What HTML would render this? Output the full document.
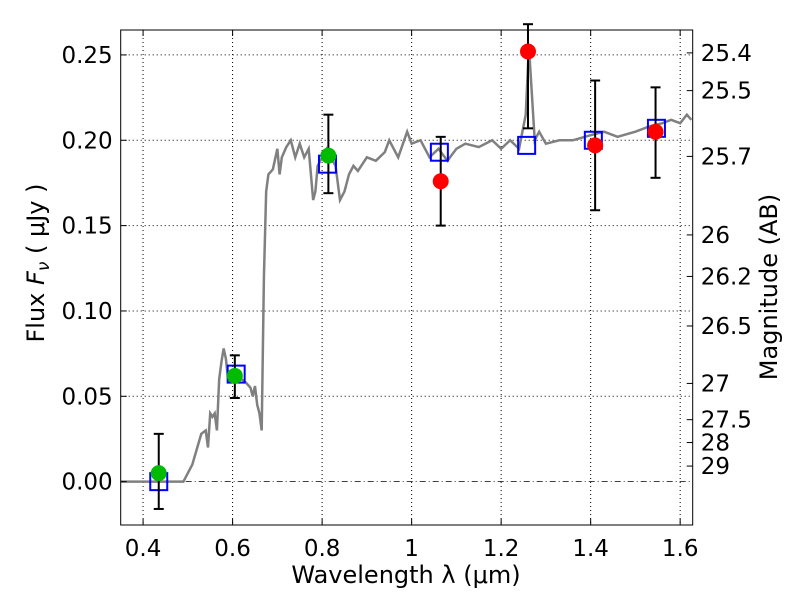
<!DOCTYPE html>
<html><head><meta charset="utf-8"><style>
body{margin:0;background:#fff;}
svg text{font-family:"DejaVu Sans","Liberation Sans",sans-serif;}
</style></head><body>
<svg id="chart" width="800" height="600" viewBox="0 0 800 600" xmlns="http://www.w3.org/2000/svg">
<rect width="800" height="600" fill="#fff"/>
<g id="grid"></g>
<g id="spec"></g>
<g id="marks"></g>
<rect x="120.7" y="30" width="572" height="495" fill="none" stroke="#000" stroke-width="1"/>
<g id="axes"></g>
<text x="406" y="583" font-size="24" text-anchor="middle">Wavelength  λ (μm)</text>
<text transform="translate(44,263) rotate(-90)" font-size="24" text-anchor="middle">Flux  <tspan font-style="italic">F</tspan><tspan font-style="italic" font-size="17" dy="5">ν</tspan><tspan dy="-5">  ( μJy )</tspan></text>
<text transform="translate(777,287) rotate(-90)" font-size="24" text-anchor="middle">Magnitude (AB)</text>
</svg>
<script>
const xTicks=[0.4,0.6,0.8,1.0,1.2,1.4,1.6];
const xTickLabels=["0.4","0.6","0.8","1","1.2","1.4","1.6"];
const yTicks=[0,0.05,0.1,0.15,0.2,0.25];
const yTickLabels=["0.00","0.05","0.10","0.15","0.20","0.25"];
const magTicks=[25.4,25.5,25.7,26,26.2,26.5,27,27.5,28,29];
const magTickLabels=["25.4","25.5","25.7","26","26.2","26.5","27","27.5","28","29"];
const specWave=[0.35,0.49,0.51,0.53,0.54,0.545,0.55,0.555,0.56,0.565,0.57,0.575,0.58,0.585,0.59,0.60,0.61,0.62,0.63,0.64,0.645,0.65,0.655,0.66,0.665,0.67,0.675,0.68,0.69,0.70,0.705,0.71,0.72,0.73,0.74,0.75,0.76,0.77,0.78,0.785,0.79,0.80,0.81,0.82,0.83,0.84,0.85,0.86,0.87,0.88,0.90,0.92,0.94,0.95,0.97,0.99,1.00,1.02,1.04,1.06,1.08,1.10,1.12,1.15,1.18,1.20,1.22,1.24,1.255,1.262,1.268,1.275,1.285,1.30,1.33,1.36,1.40,1.43,1.46,1.50,1.53,1.56,1.58,1.60,1.615,1.625];
const specFlux=[0,0,0.01,0.028,0.03,0.02,0.04,0.038,0.04,0.03,0.06,0.07,0.078,0.072,0.06,0.064,0.06,0.06,0.058,0.055,0.05,0.056,0.045,0.04,0.03,0.12,0.17,0.18,0.183,0.195,0.18,0.19,0.196,0.2,0.19,0.198,0.19,0.195,0.165,0.17,0.185,0.19,0.195,0.19,0.185,0.165,0.17,0.18,0.185,0.182,0.19,0.188,0.193,0.2,0.19,0.205,0.198,0.2,0.19,0.195,0.188,0.195,0.198,0.196,0.2,0.195,0.2,0.195,0.215,0.255,0.23,0.2,0.205,0.198,0.2,0.2,0.203,0.205,0.202,0.205,0.208,0.21,0.212,0.21,0.215,0.212];
const photWave=[0.435,0.605,0.814,1.065,1.26,1.41,1.545];
const photFlux=[0.005,0.062,0.191,0.176,0.252,0.197,0.205];
const photLow=[-0.016,0.049,0.169,0.150,0.207,0.159,0.178];
const photHigh=[0.028,0.074,0.215,0.202,0.268,0.235,0.231];
const photColors=["#00bb00","#00bb00","#00bb00","#ff0000","#ff0000","#ff0000","#ff0000"];
const modelWave=[0.435,0.608,0.812,1.062,1.257,1.406,1.547];
const modelFlux=[0.0,0.063,0.186,0.193,0.197,0.200,0.207];

const L=120.7,R=692.7,T=30,B=525,x0=0.35,x1=1.628,y0=-0.0254,y1=0.2646;
const X=v=>L+(v-x0)/(x1-x0)*(R-L);
const Y=v=>B-(v-y0)/(y1-y0)*(B-T);
const NS="http://www.w3.org/2000/svg";
function mk(p,t,a){const e=document.createElementNS(NS,t);for(const k in a)e.setAttribute(k,a[k]);p.appendChild(e);return e;}
const grid=document.getElementById('grid'),axes=document.getElementById('axes'),spec=document.getElementById('spec'),marks=document.getElementById('marks');
xTicks.forEach((v,i)=>{
 const g=mk(grid,'line',{x1:X(v),x2:X(v),y1:T,y2:B,stroke:'#000','stroke-dasharray':'1,3','stroke-width':1});
 
 
 mk(axes,'line',{x1:X(v),x2:X(v),y1:B,y2:B-6,stroke:'#000'});
 mk(axes,'line',{x1:X(v),x2:X(v),y1:T,y2:T+6,stroke:'#000'});
 const t=mk(axes,'text',{x:X(v),y:B+31,'font-size':23,'text-anchor':'middle'});t.textContent=xTickLabels[i];
 
 
});
yTicks.forEach((v,i)=>{
 if(v!==0){const g=mk(grid,'line',{x1:L,x2:R,y1:Y(v),y2:Y(v),stroke:'#000','stroke-dasharray':'1,3','stroke-width':1});
 
 }
 mk(axes,'line',{x1:L,x2:L+6,y1:Y(v),y2:Y(v),stroke:'#000'});
 const t=mk(axes,'text',{x:L-8,y:Y(v)+8,'font-size':23,'text-anchor':'end'});t.textContent=yTickLabels[i];
 
 
});
const zl=mk(grid,'line',{x1:L,x2:R,y1:Y(0),y2:Y(0),stroke:'#000','stroke-dasharray':'6,3,1,3','stroke-width':0.8});


magTicks.forEach((m,i)=>{
 const f=Math.pow(10,(23.9-m)/2.5);const y=Y(f);
 mk(axes,'line',{x1:R,x2:R-6,y1:y,y2:y,stroke:'#000'});
 const t=mk(axes,'text',{x:R+8,y:y+8,'font-size':23});t.textContent=magTickLabels[i];
 
 
});
const pl=mk(spec,'polyline',{points:specWave.map((w,i)=>X(w)+','+Y(specFlux[i])).join(' '),fill:'none',stroke:'#808080','stroke-width':2.5});


modelWave.forEach((w,i)=>{
 const r=mk(marks,'rect',{x:X(w)-8.5,y:Y(modelFlux[i])-8.5,width:17,height:17,fill:'none',stroke:'#0000ff','stroke-width':2});
 
 
});
photWave.forEach((w,i)=>{
 const x=X(w);
 const g=mk(marks,'g',{});
 
 
 mk(g,'line',{x1:x,x2:x,y1:Y(photLow[i]),y2:Y(photHigh[i]),stroke:'#000','stroke-width':2});
 mk(g,'line',{x1:x-5,x2:x+5,y1:Y(photLow[i]),y2:Y(photLow[i]),stroke:'#000','stroke-width':2});
 mk(g,'line',{x1:x-5,x2:x+5,y1:Y(photHigh[i]),y2:Y(photHigh[i]),stroke:'#000','stroke-width':2});
 const c=mk(marks,'circle',{cx:x,cy:Y(photFlux[i]),r:8,fill:photColors[i]});
 
 
});
</script>
</body></html>
